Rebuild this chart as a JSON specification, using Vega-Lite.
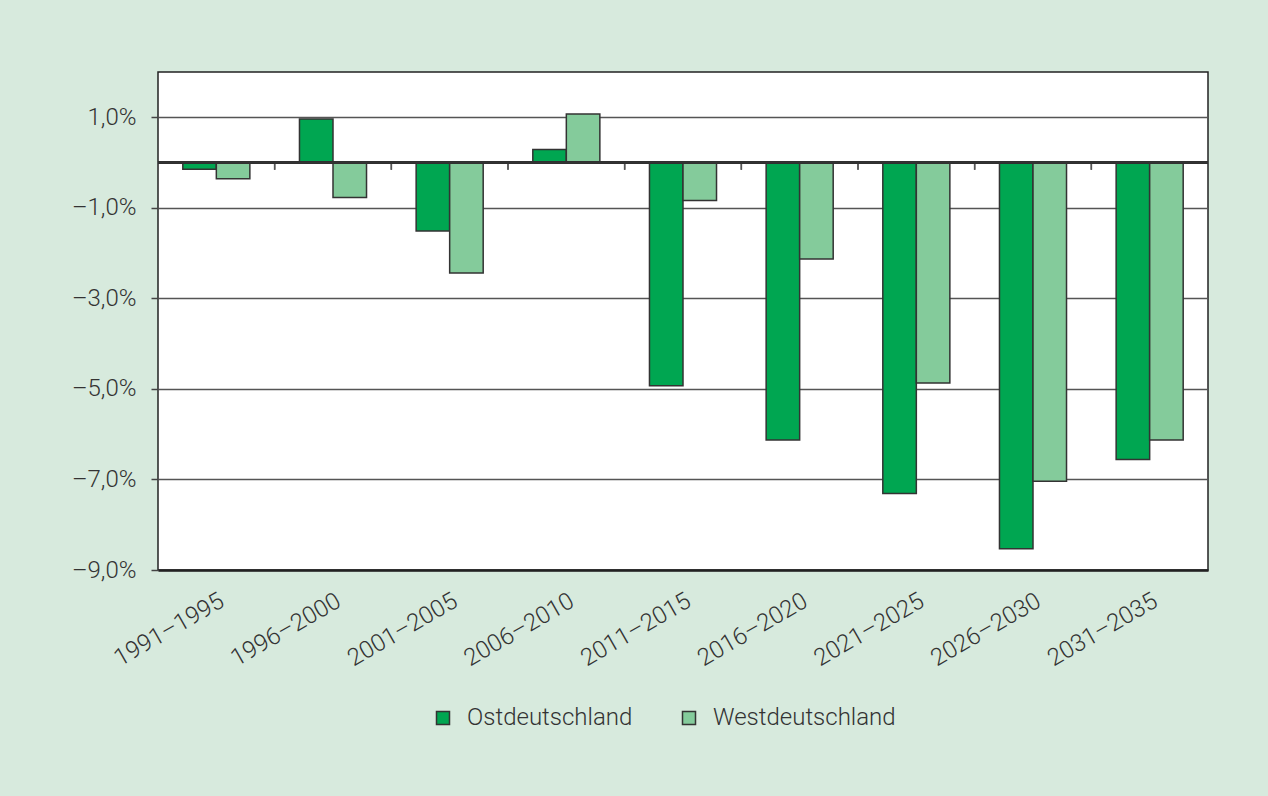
{
  "$schema": "https://vega.github.io/schema/vega-lite/v6.json",
  "autosize": {"type": "none"},
  "width": 1050,
  "height": 498,
  "padding": {"left": 158, "top": 72, "right": 60, "bottom": 226},
  "background": "#d7eadd",
  "config": {
    "view": {"stroke": "#222222", "strokeWidth": 1.5, "fill": "#ffffff"},
    "font": "Roboto",
    "axis": {"labelFont": "Roboto", "labelFontWeight": 300, "labelFontSize": 24, "labelColor": "#333333"},
    "legend": {"labelFont": "Roboto", "labelFontWeight": 300, "labelFontSize": 24, "labelColor": "#333333", "labelLimit": 400}
  },
  "data": {
    "values": [
      {"period": "1991–1995", "region": "Ostdeutschland", "value": -0.15},
      {"period": "1991–1995", "region": "Westdeutschland", "value": -0.36},
      {"period": "1996–2000", "region": "Ostdeutschland", "value": 0.96},
      {"period": "1996–2000", "region": "Westdeutschland", "value": -0.77},
      {"period": "2001–2005", "region": "Ostdeutschland", "value": -1.51},
      {"period": "2001–2005", "region": "Westdeutschland", "value": -2.44},
      {"period": "2006–2010", "region": "Ostdeutschland", "value": 0.29},
      {"period": "2006–2010", "region": "Westdeutschland", "value": 1.07},
      {"period": "2011–2015", "region": "Ostdeutschland", "value": -4.93},
      {"period": "2011–2015", "region": "Westdeutschland", "value": -0.84},
      {"period": "2016–2020", "region": "Ostdeutschland", "value": -6.13},
      {"period": "2016–2020", "region": "Westdeutschland", "value": -2.13},
      {"period": "2021–2025", "region": "Ostdeutschland", "value": -7.31},
      {"period": "2021–2025", "region": "Westdeutschland", "value": -4.87},
      {"period": "2026–2030", "region": "Ostdeutschland", "value": -8.53},
      {"period": "2026–2030", "region": "Westdeutschland", "value": -7.04},
      {"period": "2031–2035", "region": "Ostdeutschland", "value": -6.56},
      {"period": "2031–2035", "region": "Westdeutschland", "value": -6.13}
    ]
  },
  "layer": [
    {
      "mark": {"type": "rule", "color": "#555555", "strokeWidth": 1.5},
      "encoding": {
        "x": {"field": "period", "type": "nominal", "sort": null, "bandPosition": 0},
        "y": {"datum": 0},
        "y2": {"datum": -0.16}
      }
    },
    {
      "mark": {"type": "bar", "stroke": "#333333", "strokeWidth": 1.5},
      "encoding": {
        "x": {
          "field": "period", "type": "nominal", "sort": null,
          "scale": {"paddingInner": 0, "paddingOuter": 0},
          "axis": {
            "title": null, "ticks": false, "domainColor": "#222222", "domainWidth": 2.5,
            "labelAngle": -30, "labelPadding": 29, "labelOffset": 6, "labelAlign": "right", "labelBaseline": "middle"
          }
        },
        "xOffset": {
          "field": "region", "type": "nominal",
          "scale": {"paddingOuter": 0.74, "paddingInner": 0}
        },
        "y": {
          "field": "value", "type": "quantitative",
          "scale": {"domain": [-9, 2], "nice": false, "zero": false},
          "axis": {
            "title": null, "values": [1, -1, -3, -5, -7, -9], "domain": false,
            "tickSize": 7, "tickColor": "#444444", "tickWidth": 1.5,
            "grid": true, "gridColor": "#555555", "gridWidth": 1.5, "gridOpacity": 1,
            "labelPadding": 15,
            "labelExpr": "(datum.value < 0 ? '–' : '') + replace(format(abs(datum.value), '.1f'), '.', ',') + '%'"
          }
        },
        "color": {
          "field": "region", "type": "nominal",
          "scale": {"domain": ["Ostdeutschland", "Westdeutschland"], "range": ["#00a651", "#84cb9b"]},
          "legend": {
            "title": null, "orient": "none", "direction": "horizontal",
            "legendX": 273, "legendY": 634,
            "symbolType": "square", "symbolSize": 169, "symbolStrokeColor": "#333333", "symbolStrokeWidth": 1.5,
            "labelOffset": 12, "columnPadding": 44
          }
        }
      }
    },
    {
      "mark": {"type": "rule", "color": "#333333", "strokeWidth": 1.5},
      "encoding": {"y": {"datum": 0}}
    }
  ]
}
